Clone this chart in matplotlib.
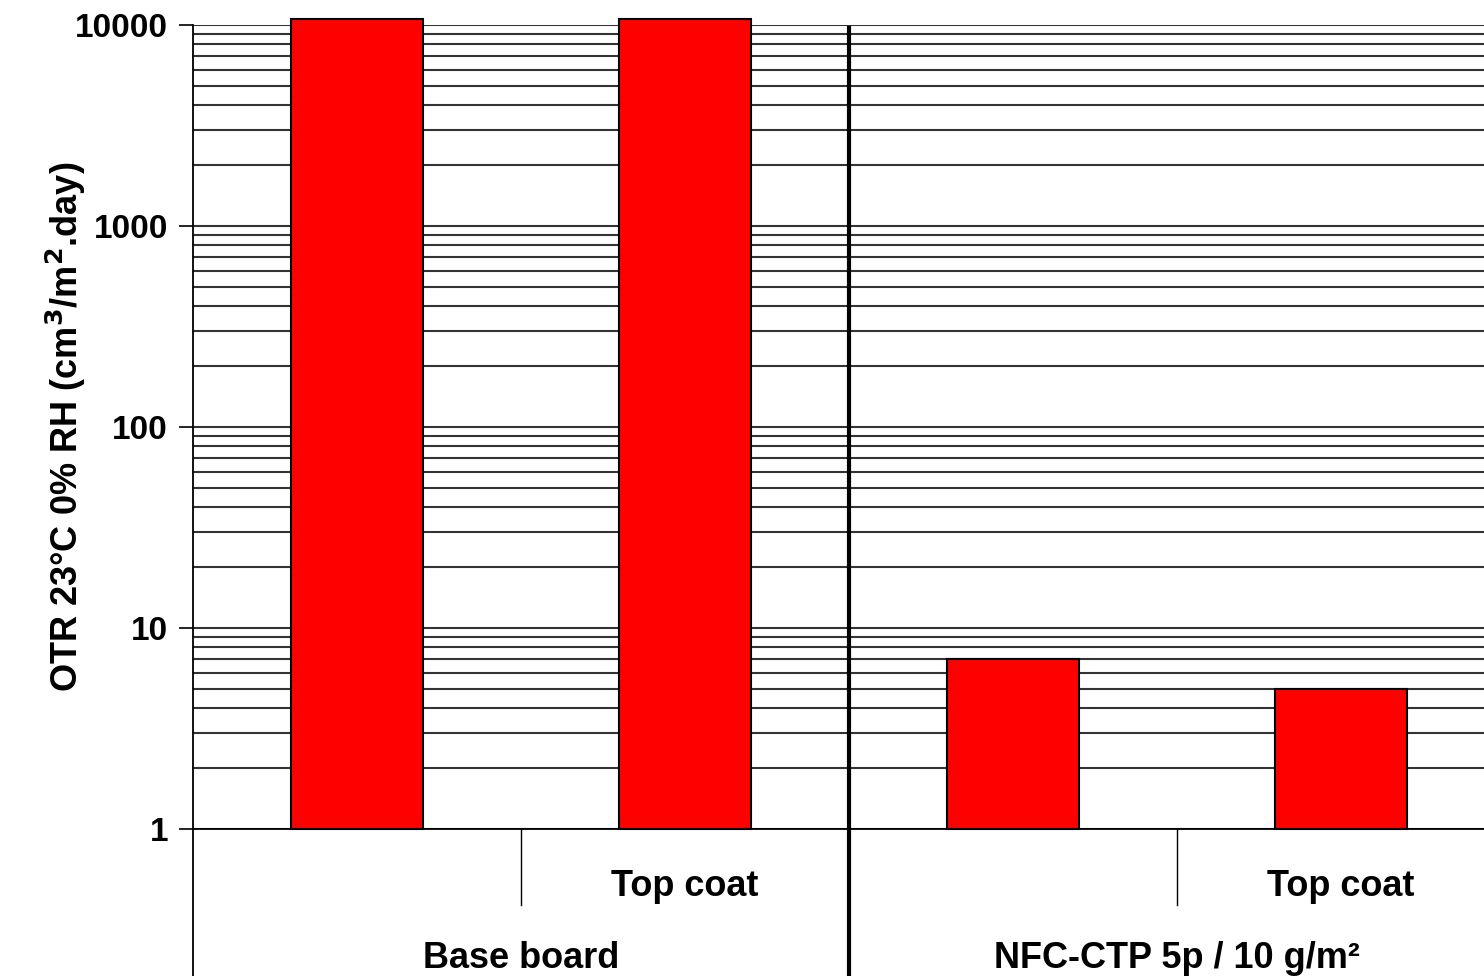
import matplotlib
matplotlib.use("Agg")
from matplotlib import pyplot as plt
from matplotlib import transforms
from matplotlib.ticker import LogLocator, FixedLocator, NullFormatter
import numpy as np

# data
coatings = ["", "Top coat", "", "Top coat"]
groups = ["Base board", "NFC-CTP 5p / 10 g/m²"]
otr = [10700, 10700, 7.0, 5.0]   # first two run off the top of the scale
y_ticks = [1, 10, 100, 1000, 10000]

plt.rcParams['font.family'] = ['Liberation Sans', 'DejaVu Sans']
plt.rcParams['font.weight'] = 'bold'

W, H = 1484, 976
fig = plt.figure(figsize=(W / 100, H / 100), dpi=100)
# axes runs a bit past the right edge of the picture, like the original
left, right, top, bottom = 193, 1505, 25, 829
ax = fig.add_axes([left / W, (H - bottom) / H, (right - left) / W, (bottom - top) / H])

x = np.arange(len(otr))
base = 1.0
ax.bar(x, np.array(otr) - base, bottom=base, width=0.40, color='#ff0000',
       edgecolor='black', linewidth=1.5, zorder=3, clip_on=False)

ax.set_yscale('log')
ax.set_ylim(1, 10000)
ax.set_xlim(-0.5, len(otr) - 0.5)
ax.yaxis.set_major_locator(FixedLocator(y_ticks))
ax.set_yticklabels([str(v) for v in y_ticks])
ax.yaxis.set_minor_locator(LogLocator(base=10, subs=np.arange(2, 10)))
ax.yaxis.set_minor_formatter(NullFormatter())
ax.tick_params(axis='y', which='major', length=10, width=1.2, labelsize=24, pad=8)
ax.tick_params(axis='y', which='minor', length=0)
ax.tick_params(axis='x', length=0, labelbottom=False)
ax.grid(True, which='both', axis='y', color='#333333', linewidth=1.5, zorder=0)

for s in ['top', 'right', 'left']:
    ax.spines[s].set_visible(False)
ax.spines['bottom'].set_linewidth(1.3)

ax.set_ylabel('OTR 23°C 0% RH (cm$^\\mathbf{3}$/m$^\\mathbf{2}$.day)', fontsize=26,
              fontweight='bold')
ax.yaxis.set_label_coords(-0.080, 0.5)

# category table below the axis
trans = transforms.blended_transform_factory(ax.transData, ax.transAxes)
ax.plot([-0.5, -0.5], [1, -0.19], color='black', lw=1.3, transform=trans, clip_on=False)
for xd in [0.5, 2.5]:
    ax.plot([xd, xd], [0, -0.095], color='black', lw=1, transform=trans, clip_on=False)
ax.plot([1.5, 1.5], [0.996, -0.19], color='black', lw=3, transform=trans,
        clip_on=False, zorder=4)

for xi, lab in zip(x, coatings):
    ax.text(xi, -0.071, lab, transform=trans, ha='center', va='center',
            fontsize=26, fontweight='bold')
for gi, lab in enumerate(groups):
    ax.text(gi * 2 + 0.5, -0.161, lab, transform=trans, ha='center', va='center',
            fontsize=26, fontweight='bold')

fig.savefig('out.png', dpi=100)
